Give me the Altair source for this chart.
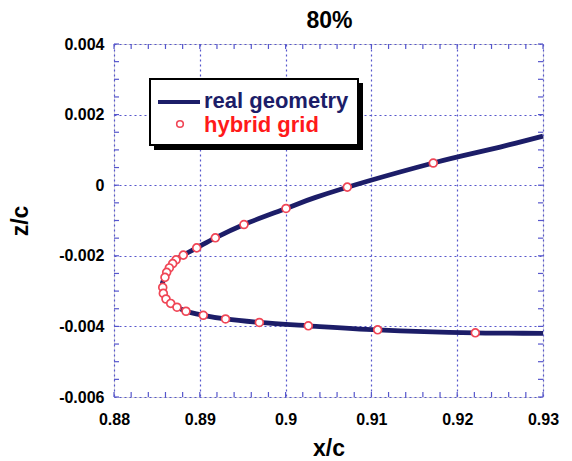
import altair as alt
import pandas as pd

# ---- data ----
grid_x = [0.91721, 0.90719, 0.90005, 0.89515, 0.89181, 0.88964, 0.88808, 0.88723,
          0.88684, 0.88645, 0.88614, 0.88594, 0.88568, 0.88575, 0.88606, 0.88661,
          0.88734, 0.88839, 0.89041, 0.89300, 0.89694, 0.90265, 0.91073, 0.92211]
grid_z = [0.000628, -0.000054, -0.000659, -0.001114, -0.001491, -0.001776, -0.001980, -0.002116,
          -0.002222, -0.002344, -0.002469, -0.002611, -0.002895, -0.003065, -0.003224, -0.003349,
          -0.003457, -0.003571, -0.003685, -0.003790, -0.003889, -0.003983, -0.004097, -0.004182]

geom_x = [0.93, 0.925, 0.91721, 0.9035, 0.90005, 0.89515, 0.89181, 0.88964, 0.88808,
          0.88723, 0.88684, 0.88645, 0.88614, 0.88594, 0.88565, 0.88568, 0.88575,
          0.88606, 0.88661, 0.88734, 0.88839, 0.89041, 0.89300, 0.89694, 0.90265,
          0.91073, 0.92211, 0.926, 0.93]
geom_z = [0.00139, 0.00108, 0.000628, -0.000345, -0.000659, -0.001114, -0.001491, -0.001776, -0.001980,
          -0.002116, -0.002222, -0.002344, -0.002469, -0.002611, -0.002760, -0.002895, -0.003065,
          -0.003224, -0.003349, -0.003457, -0.003571, -0.003685, -0.003790, -0.003889, -0.003983,
          -0.004097, -0.004182, -0.004190, -0.004200]

x_major = [0.88, 0.89, 0.90, 0.91, 0.92, 0.93]
y_major = [0.004, 0.002, 0.0, -0.002, -0.004, -0.006]
x_minor = [round(0.88 + 0.002 * i, 3) for i in range(26)]
y_minor = [round(-0.006 + 0.0005 * i, 4) for i in range(21)]

legend_labels = ["real geometry", "hybrid grid"]
title_text = "80%"

W, H = 429, 353
NAVY = "#1c1d68"
RED = "#ff1a1a"
PINK = "#f04656"
FRAME = "#5656cc"
FONT = "Liberation Sans"

geom_df = pd.DataFrame({"x": geom_x, "z": geom_z, "i": list(range(len(geom_x)))})
grid_df = pd.DataFrame({"x": grid_x, "z": grid_z})
xt_df = pd.DataFrame({"x": x_minor})
yt_df = pd.DataFrame({"z": y_minor})
one = pd.DataFrame({"a": [0]})

xscale = alt.Scale(domain=[0.88, 0.93], nice=False, zero=False)
yscale = alt.Scale(domain=[-0.006, 0.004], nice=False, zero=False)

xaxis = alt.Axis(values=x_major, title="x/c", grid=True, domain=False, ticks=False,
                 labelExpr="format(datum.value, '.2~f')",
                 labelFontSize=16, labelFont=FONT, labelFontWeight="bold", labelColor="black",
                 labelPadding=14, titleFontSize=23, titleFont=FONT, titleFontWeight="bold",
                 titleColor="black", titleX=W / 2, titleY=58, titleBaseline="alphabetic",
                 gridColor=FRAME, gridDash=[2, 3], gridWidth=1.2, labelFlush=False)
yaxis = alt.Axis(values=y_major, title="z/c", grid=True, domain=False, ticks=False,
                 labelExpr="(datum.value < 0 ? '-' : '') + format(abs(datum.value), '~g')",
                 labelFontSize=16, labelFont=FONT, labelFontWeight="bold", labelColor="black",
                 labelPadding=10, titleFontSize=23, titleFont=FONT, titleFontWeight="bold",
                 titleColor="black", titleX=-94, titleY=H / 2, titleAngle=-90,
                 titleAlign="center", titleBaseline="middle",
                 gridColor=FRAME, gridDash=[2, 3], gridWidth=1.2, labelFlush=False)

line = alt.Chart(geom_df).mark_line(color=NAVY, strokeWidth=4.8, interpolate="catmull-rom").encode(
    x=alt.X("x:Q", scale=xscale, axis=xaxis),
    y=alt.Y("z:Q", scale=yscale, axis=yaxis),
    order="i:Q",
)

pts = alt.Chart(grid_df).mark_point(shape="circle", filled=True, fill="white", stroke=PINK,
                                    strokeWidth=1.7, size=62, opacity=1).encode(
    x=alt.X("x:Q", scale=xscale), y=alt.Y("z:Q", scale=yscale))

tick_len = 5
tb = alt.Chart(xt_df).mark_rule(color=FRAME, strokeWidth=1.2).encode(
    x=alt.X("x:Q", scale=xscale), y=alt.value(H), y2=alt.value(H - tick_len))
tt = alt.Chart(xt_df).mark_rule(color=FRAME, strokeWidth=1.2).encode(
    x=alt.X("x:Q", scale=xscale), y=alt.value(0), y2=alt.value(tick_len))
tl = alt.Chart(yt_df).mark_rule(color=FRAME, strokeWidth=1.2).encode(
    y=alt.Y("z:Q", scale=yscale), x=alt.value(0), x2=alt.value(tick_len))
tr = alt.Chart(yt_df).mark_rule(color=FRAME, strokeWidth=1.2).encode(
    y=alt.Y("z:Q", scale=yscale), x=alt.value(W), x2=alt.value(W - tick_len))

# legend box (drawn by hand)
shadow = alt.Chart(one).mark_rect(color="black").encode(
    x=alt.value(40), x2=alt.value(249), y=alt.value(39), y2=alt.value(106))
box = alt.Chart(one).mark_rect(fill="white", stroke="black", strokeWidth=2).encode(
    x=alt.value(36), x2=alt.value(244), y=alt.value(35), y2=alt.value(101))
leg_line = alt.Chart(one).mark_rule(color=NAVY, strokeWidth=4).encode(
    x=alt.value(44), x2=alt.value(86), y=alt.value(58))
leg_pt = alt.Chart(one).mark_point(shape="circle", filled=True, fill="white", stroke=PINK,
                                   strokeWidth=1.6, size=44, opacity=1).encode(
    x=alt.value(66), y=alt.value(80))
leg_t1 = alt.Chart(one).mark_text(align="left", baseline="middle", font=FONT, fontWeight="bold",
                                  fontSize=22, color=NAVY).encode(
    x=alt.value(90), y=alt.value(57), text=alt.value(legend_labels[0]))
leg_t2 = alt.Chart(one).mark_text(align="left", baseline="middle", font=FONT, fontWeight="bold",
                                  fontSize=22, color=RED).encode(
    x=alt.value(90), y=alt.value(81), text=alt.value(legend_labels[1]))

title = alt.Chart(one).mark_text(align="center", baseline="alphabetic", font=FONT, fontWeight="bold",
                                 fontSize=23, color="black").encode(
    x=alt.value(W / 2 + 1), y=alt.value(-16), text=alt.value(title_text))

chart = alt.layer(line, pts, tb, tt, tl, tr, shadow, box, leg_line, leg_pt, leg_t1, leg_t2, title).properties(
    width=W, height=H,
    autosize=alt.AutoSizeParams(type="none"),
    padding={"left": 114, "top": 44, "right": 29, "bottom": 64},
).configure_view(stroke=FRAME, strokeWidth=1.5).configure(background="white")

chart.save("out.html", embed_options={"renderer": "svg", "actions": False})
